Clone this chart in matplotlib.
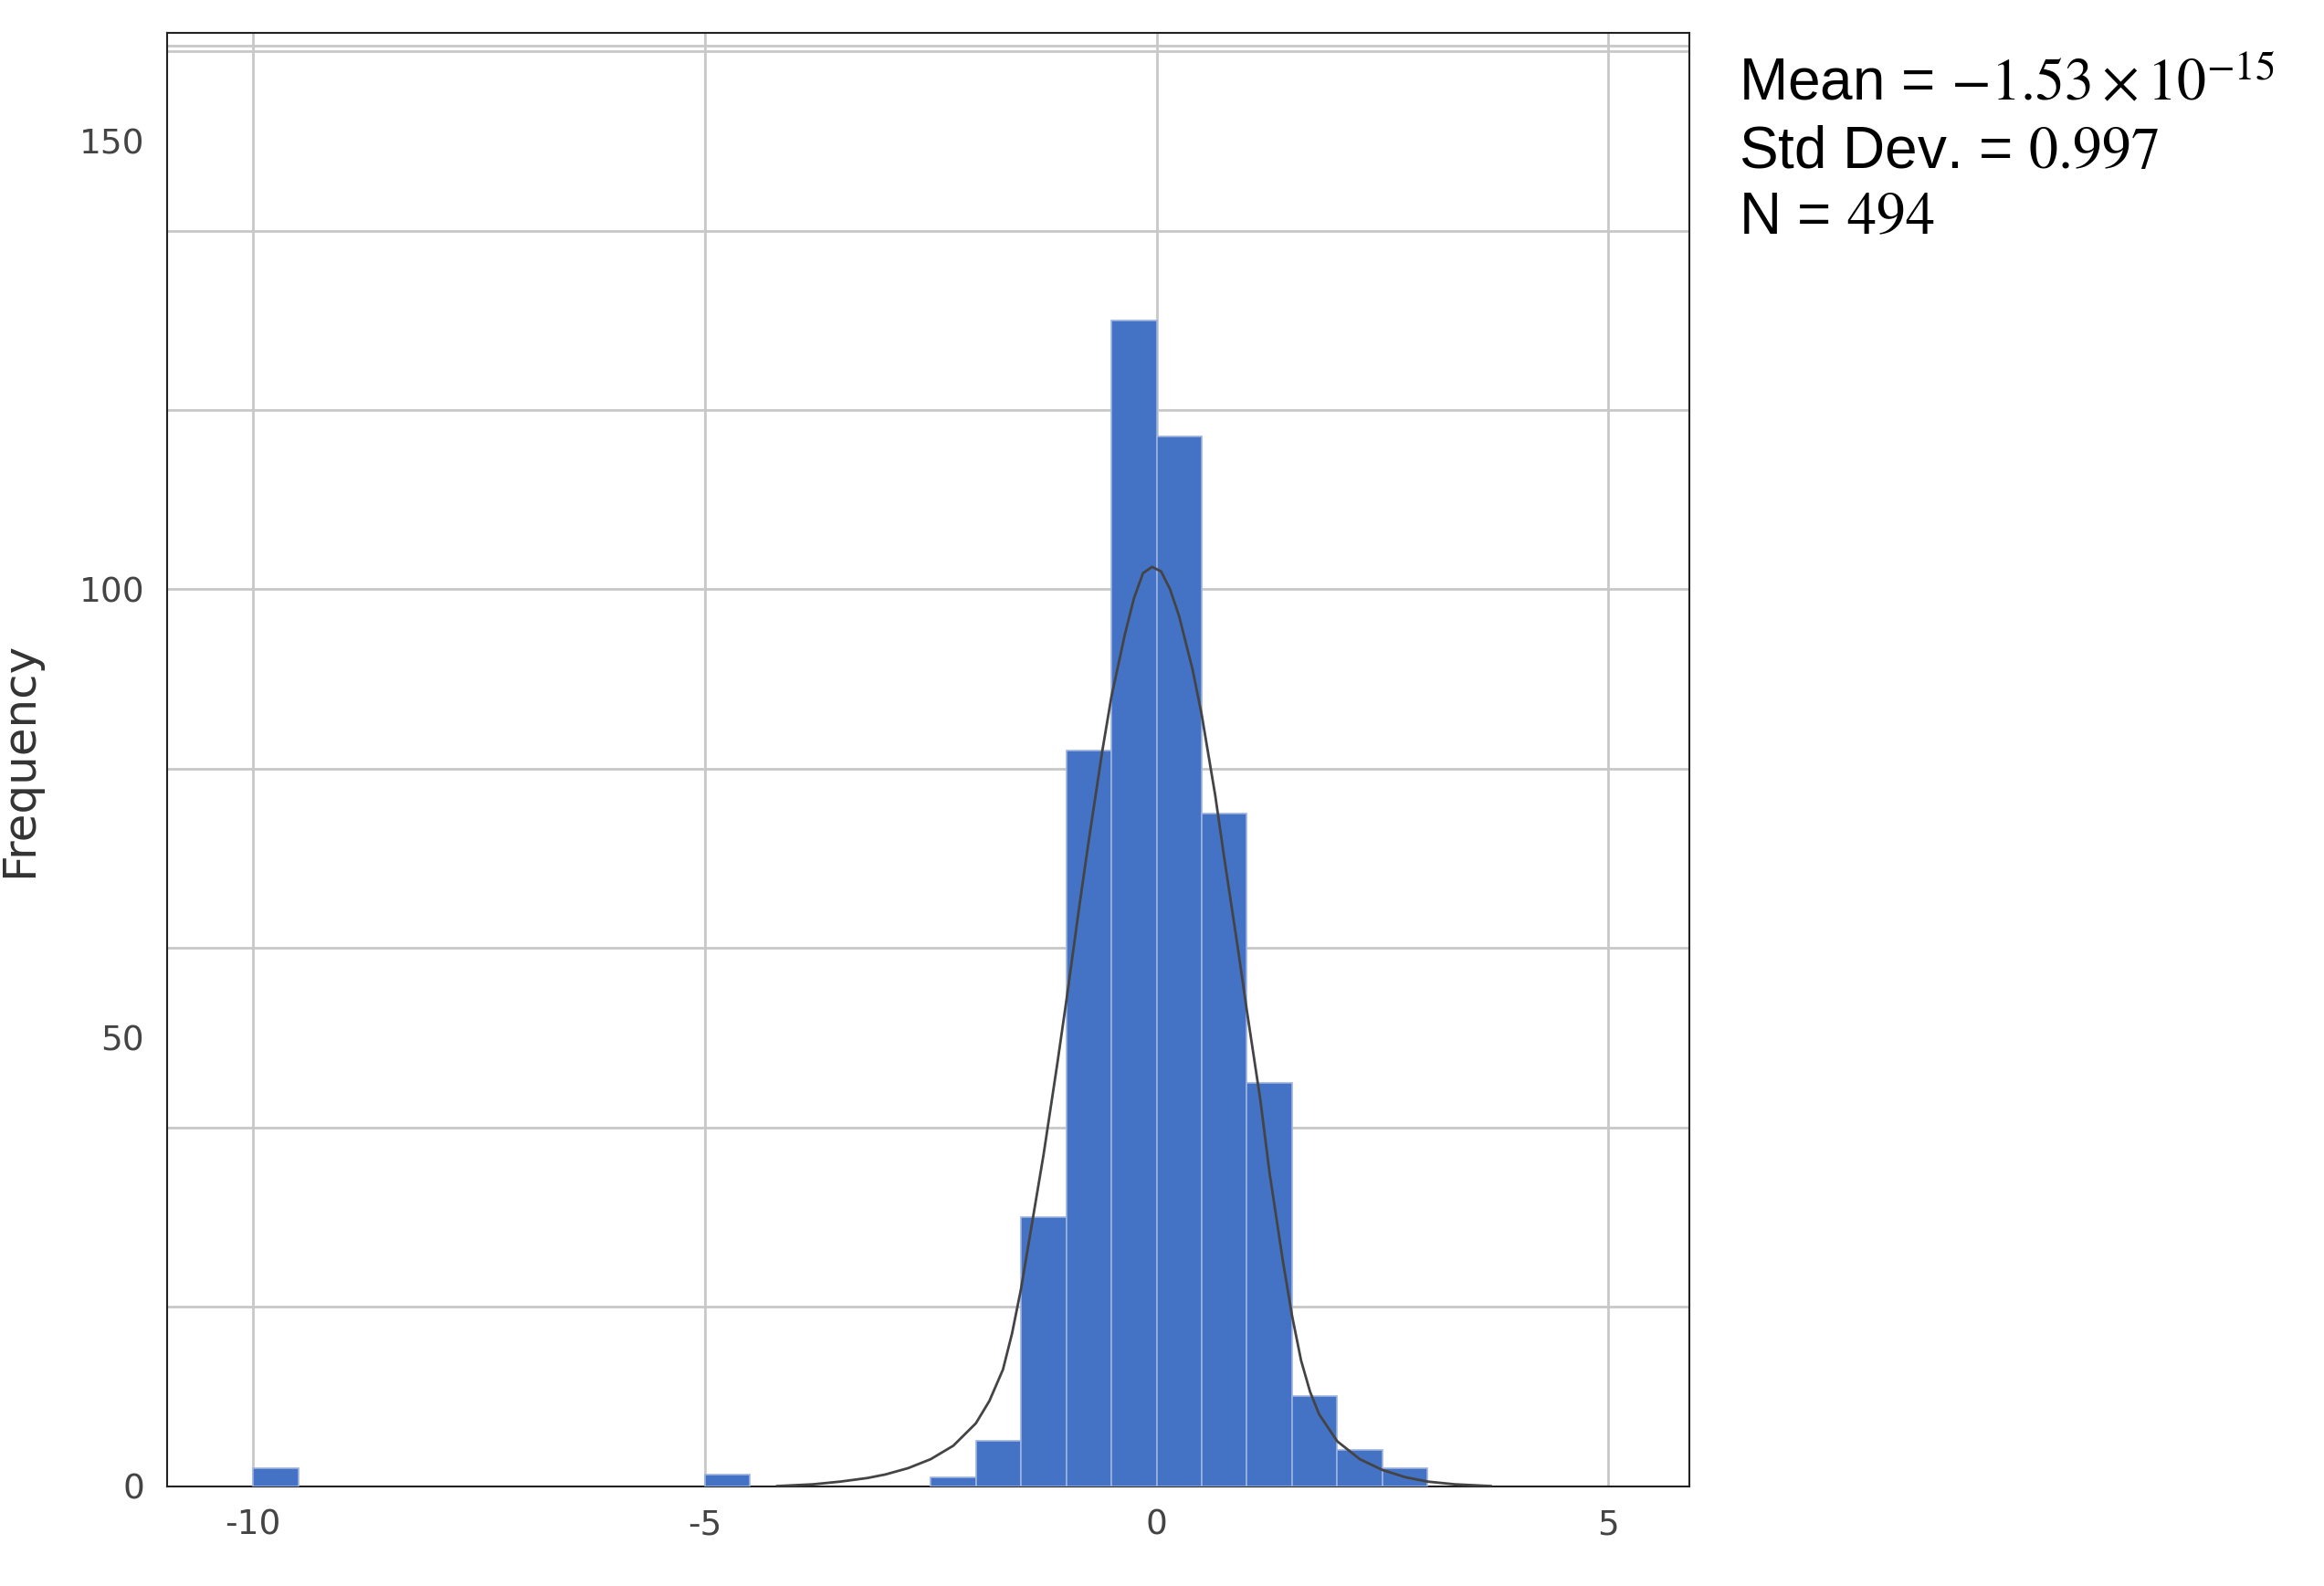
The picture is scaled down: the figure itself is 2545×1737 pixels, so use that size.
import numpy as np
import matplotlib; matplotlib.use('Agg'); import matplotlib.pyplot as plt
plt.rcParams['axes.unicode_minus']=False

# histogram bins (width 0.5) and counts
bin_left=[-10,-5,-2.5,-2,-1.5,-1,-0.5,0,0.5,1,1.5,2,2.5]
counts=[2,1.3,1,5,30,82,130,117,75,45,10,4,2]
# fitted curve, read point by point
curve_x=[-4.2,-3.8,-3.5,-3.2,-3,-2.75,-2.5,-2.25,-2,-1.85,-1.7,-1.6,-1.5,-1.4,-1.25,-1.1,-1,-0.85,-0.75,-0.6,-0.5,-0.35,-0.25,-0.15,-0.05,
         0.05,0.15,0.25,0.4,0.5,0.65,0.75,0.9,1,1.15,1.25,1.4,1.5,1.6,1.7,1.8,2,2.25,2.5,2.75,3,3.3,3.7]
curve_y=[0,0.2,0.5,0.9,1.3,2.0,3.0,4.5,7.0,9.5,13,17,22,28,37,47,54,65,72,82,88,95,99,101.8,102.5,
         102,100,97,91,86,77,70,60,53,43,35,25,19,14,10.5,8,5.0,3.0,1.8,1.0,0.5,0.2,0]
yticks=[0,50,100,150]; xticks=[-10,-5,0,5]; hgrid=list(range(0,161,20))

fig=plt.figure(figsize=(25.45,17.37),dpi=100)
ax=fig.add_axes([0.072,0.063,0.655,0.916])
ax.bar(bin_left,counts,width=0.5,align='edge',color='#4472c4',edgecolor='#9db3e0',lw=1.2,zorder=3)
ax.plot(curve_x,curve_y,color='#444444',lw=2,zorder=4)
for g in hgrid: ax.axhline(g,color='#c8c8c8',lw=2,zorder=1)
ax.axhline(160.6,color='#c8c8c8',lw=2,zorder=1)
for g in xticks: ax.axvline(g,color='#c8c8c8',lw=2,zorder=1)
ax.set_xlim(-10.95,5.9); ax.set_ylim(0,162)
ax.set_xticks(xticks); ax.set_yticks(yticks)
ax.tick_params(length=0,labelsize=27,labelcolor='#444444',pad=18)
for s in ax.spines.values(): s.set_color('#222222'); s.set_linewidth(1.5)
ax.set_ylabel('Frequency',fontsize=36,color='#333333',labelpad=30)
fs=46
kw=dict(fontsize=fs,va='center',family='Liberation Sans',math_fontfamily='stix')
fig.text(0.748,0.947,r'Mean = $-1.53\times10^{-15}$',**kw)
fig.text(0.748,0.904,r'Std Dev. = $0.997$',**kw)
fig.text(0.748,0.862,r'N = $494$',**kw)
fig.savefig('out.png',dpi=100,facecolor='white')
